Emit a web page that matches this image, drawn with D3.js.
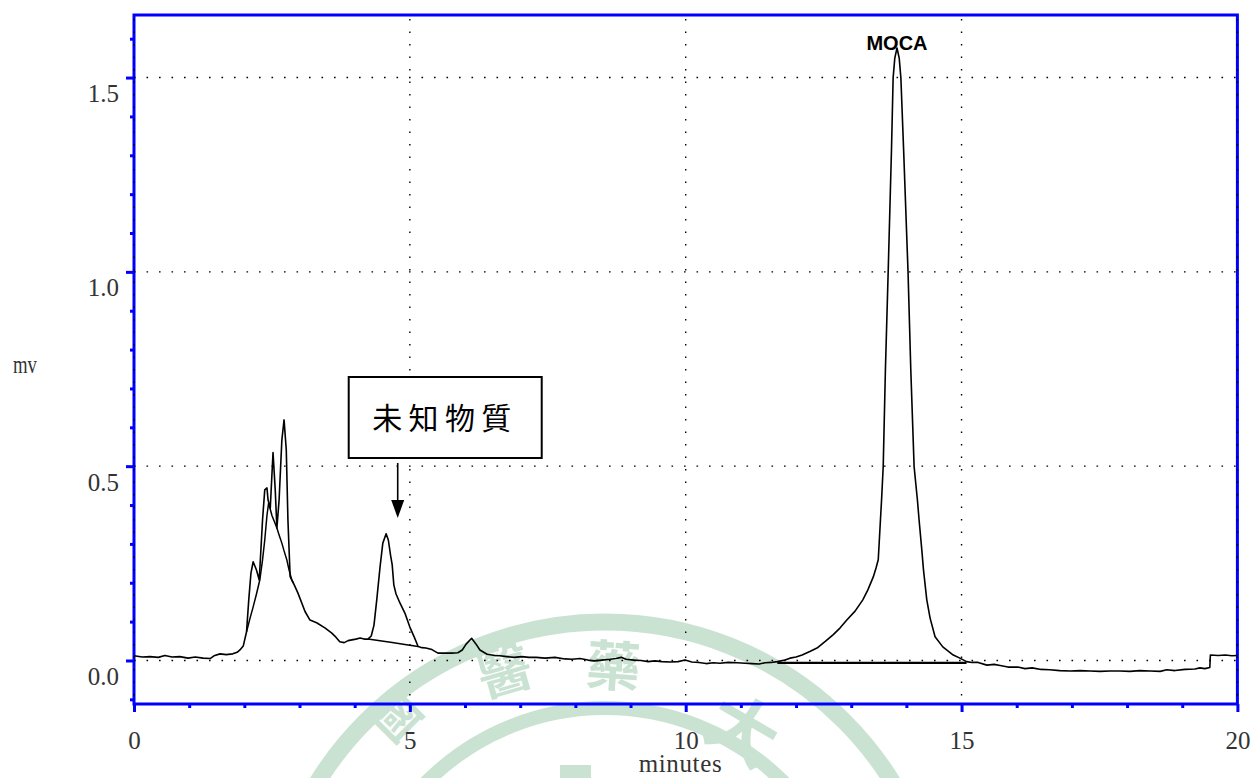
<!DOCTYPE html>
<html>
<head>
<meta charset="utf-8">
<script src="https://cdn.jsdelivr.net/npm/d3@7"></script>
<style>
  body { margin: 0; background: #fff; }
  svg { display: block; }
</style>
</head>
<body>
<div id="chart"></div>
<script>
// chromatogram trace, [minutes, mv]
var trace = [
  [0.00,0.012],[0.15,0.009],[0.29,0.010],[0.44,0.008],[0.56,0.013],[0.69,0.009],[0.83,0.010],
  [0.98,0.006],[1.11,0.009],[1.25,0.006],[1.38,0.005],[1.45,0.012],[1.56,0.017],[1.67,0.015],
  [1.79,0.017],[1.87,0.021],[1.92,0.027],[1.98,0.037],[2.04,0.074],[2.08,0.156],[2.12,0.225],
  [2.16,0.254],[2.22,0.233],[2.27,0.207],[2.33,0.362],[2.37,0.439],[2.41,0.444],[2.43,0.413],
  [2.47,0.392],[2.52,0.535],[2.56,0.439],[2.59,0.341],[2.63,0.413],[2.68,0.567],[2.72,0.619],
  [2.76,0.542],[2.79,0.362],[2.83,0.216],[2.89,0.199],[2.97,0.174],[3.10,0.126],[3.19,0.104],
  [3.31,0.097],[3.46,0.084],[3.58,0.071],[3.66,0.060],[3.73,0.048],[3.81,0.046],[3.88,0.051],
  [3.95,0.053],[4.02,0.055],[4.10,0.058],[4.17,0.055],[4.24,0.055],[4.30,0.063],[4.35,0.091],
  [4.40,0.156],[4.46,0.241],[4.51,0.302],[4.57,0.326],[4.61,0.310],[4.65,0.271],[4.68,0.246],
  [4.71,0.194],[4.75,0.171],[4.82,0.148],[4.91,0.122],[5.00,0.086],[5.08,0.060],[5.15,0.036],
  [5.22,0.033],[5.29,0.032],[5.40,0.028],[5.51,0.019],[5.64,0.019],[5.76,0.019],[5.87,0.020],
  [5.95,0.027],[6.02,0.042],[6.12,0.057],[6.20,0.042],[6.27,0.027],[6.40,0.016],[6.54,0.013],
  [6.63,0.012],[6.76,0.010],[6.89,0.008],[7.03,0.010],[7.16,0.008],[7.29,0.008],[7.45,0.006],
  [7.63,0.008],[7.81,0.004],[7.94,0.003],[8.08,0.005],[8.23,0.001],[8.34,-0.001],[8.48,0.001],
  [8.63,0.003],[8.74,0.005],[8.83,0.008],[8.92,0.003],[9.06,0.001],[9.19,0.000],[9.32,-0.003],
  [9.44,-0.001],[9.57,-0.003],[9.72,-0.004],[9.86,-0.003],[9.99,0.001],[10.11,-0.004],[10.24,-0.005],
  [10.37,-0.008],[10.50,-0.006],[10.62,-0.007],[10.77,-0.005],[10.93,-0.006],[11.08,-0.007],
  [11.20,-0.008],[11.33,-0.009],[11.44,-0.006],[11.55,-0.005],[11.66,-0.003],[11.80,0.001],
  [11.89,0.006],[12.00,0.009],[12.11,0.014],[12.25,0.023],[12.38,0.032],[12.53,0.049],[12.67,0.066],
  [12.80,0.084],[12.92,0.104],[13.07,0.127],[13.21,0.156],[13.30,0.181],[13.40,0.215],[13.45,0.238],
  [13.49,0.259],[13.51,0.310],[13.53,0.362],[13.55,0.413],[13.58,0.499],[13.62,0.748],[13.67,1.000],
  [13.73,1.314],[13.76,1.500],[13.79,1.550],[13.83,1.576],[13.87,1.550],[13.90,1.500],[13.95,1.314],
  [14.03,1.000],[14.08,0.748],[14.14,0.499],[14.20,0.413],[14.23,0.362],[14.28,0.284],[14.31,0.233],
  [14.37,0.156],[14.43,0.109],[14.52,0.061],[14.66,0.035],[14.85,0.014],[14.97,0.006],[15.09,-0.003],
  [15.19,-0.005],[15.30,-0.005],[15.46,-0.012],[15.59,-0.010],[15.70,-0.013],[15.84,-0.017],
  [16.02,-0.017],[16.15,-0.021],[16.28,-0.019],[16.44,-0.023],[16.60,-0.024],[16.78,-0.026],
  [16.97,-0.027],[17.15,-0.026],[17.33,-0.027],[17.51,-0.028],[17.69,-0.027],[17.87,-0.027],
  [18.05,-0.028],[18.23,-0.026],[18.42,-0.027],[18.60,-0.028],[18.72,-0.024],[18.87,-0.026],
  [19.05,-0.023],[19.23,-0.022],[19.32,-0.019],[19.41,-0.021],[19.50,-0.018],[19.51,0.014],
  [19.65,0.013],[19.78,0.014],[19.90,0.012],[20.00,0.013]
];

// integrator skim under the early cluster
var hump = [
  [2.04,0.074],[2.10,0.107],[2.16,0.138],[2.22,0.171],[2.28,0.207],[2.33,0.259],[2.37,0.310],
  [2.41,0.373],[2.44,0.405],[2.47,0.389],[2.50,0.373],[2.54,0.359],[2.59,0.341],[2.63,0.323],
  [2.68,0.302],[2.72,0.282],[2.77,0.259],[2.81,0.233],[2.86,0.207],[2.89,0.199]
];

// baseline under the unknown peak
var unknownBase = [[4.24,0.055],[4.46,0.051],[4.68,0.046],[4.91,0.041],[5.15,0.036]];

// baseline under MOCA
var mocaBase = [[11.66,-0.006],[15.09,-0.006]];

var xMajor = [0, 5, 10, 15, 20];
var xMinor = [1,2,3,4,6,7,8,9,11,12,13,14,16,17,18,19];
var yMajor = [0.0, 0.5, 1.0, 1.5];
var yMinor = [-0.1,0.1,0.2,0.3,0.4,0.6,0.7,0.8,0.9,1.1,1.2,1.3,1.4,1.6];

var mocaPeak = [13.83, 1.576];
var unknownPeak = [4.78, 0.326];

var W = 1254, H = 778;
// plot box (note: "top" is reserved on window, so use prefixed names)
var pLeft = 134, pRight = 1237.4, pTop = 15, pBottom = 704;

var svg = d3.select("#chart").append("svg")
  .attr("width", W)
  .attr("height", H);

var x = d3.scaleLinear().domain([0, 20]).range([pLeft, pRight]);
var y = d3.scaleLinear().domain([-0.112, 1.661]).range([pBottom, pTop]);

// faint seal watermark behind the plot
var wmColor = "#bcdcc6";
var wm = svg.append("g").attr("opacity", 0.8);
var cx = 605, cy = 960;
wm.append("circle").attr("cx", cx).attr("cy", cy).attr("r", 338)
  .attr("fill", "none").attr("stroke", wmColor).attr("stroke-width", 17);
wm.append("circle").attr("cx", cx).attr("cy", cy).attr("r", 252)
  .attr("fill", "none").attr("stroke", wmColor).attr("stroke-width", 14);
wm.append("rect").attr("x", 560).attr("y", 765).attr("width", 31).attr("height", 13)
  .attr("fill", wmColor);
[["國", 408, 728, -45, 48], ["醫", 510, 690, -16, 54], ["藥", 612, 686, 4, 54], ["大", 730, 752, 30, 70]]
  .forEach(function(c) {
    wm.append("text")
      .attr("transform", "translate(" + c[1] + "," + c[2] + ") rotate(" + c[3] + ")")
      .attr("text-anchor", "middle")
      .attr("font-family", "Noto Sans CJK TC")
      .attr("font-size", c[4] + "px")
      .attr("font-weight", "bold")
      .attr("fill", wmColor)
      .text(c[0]);
  });

// frame
svg.append("rect")
  .attr("x", pLeft).attr("y", pTop)
  .attr("width", pRight - pLeft).attr("height", pBottom - pTop)
  .attr("fill", "none")
  .attr("stroke", "#0000ff")
  .attr("stroke-width", 3);

// dotted grid
var grid = svg.append("g")
  .attr("stroke", "#000")
  .attr("stroke-width", 1.4)
  .attr("stroke-dasharray", "1.6,10.9");
grid.selectAll(".gy").data(yMajor).enter().append("line")
  .attr("x1", pLeft).attr("x2", pRight)
  .attr("y1", function(d) { return y(d); })
  .attr("y2", function(d) { return y(d); });
grid.selectAll(".gx").data(xMajor).enter().append("line")
  .attr("y1", pTop + 4).attr("y2", pBottom)
  .attr("x1", function(d) { return x(d); })
  .attr("x2", function(d) { return x(d); });

// axes (ticks only, the frame is the domain line)
function styleAxis(g) {
  g.select(".domain").remove();
  g.selectAll(".tick line").attr("stroke", "#0000ff").attr("stroke-width", 3);
}

svg.append("g")
  .attr("transform", "translate(" + pLeft + ",0)")
  .call(d3.axisLeft(y).tickValues(yMinor).tickSize(4).tickFormat(""))
  .call(styleAxis);

svg.append("g")
  .attr("transform", "translate(" + pLeft + ",0)")
  .call(d3.axisLeft(y).tickValues(yMajor).tickSize(8).tickPadding(7).tickFormat(d3.format(".1f")))
  .call(styleAxis)
  .selectAll("text")
    .attr("dy", 24)
    .attr("font-family", "Liberation Serif")
    .attr("font-size", "25px")
    .attr("fill", "#333");

svg.append("g")
  .attr("transform", "translate(0," + pBottom + ")")
  .call(d3.axisBottom(x).tickValues(xMinor).tickSize(4).tickFormat(""))
  .call(styleAxis);

svg.append("g")
  .attr("transform", "translate(0," + pBottom + ")")
  .call(d3.axisBottom(x).tickValues(xMajor).tickSize(8).tickFormat(d3.format("d")))
  .call(styleAxis)
  .selectAll("text")
    .attr("y", 45)
    .attr("dy", 0)
    .attr("font-family", "Liberation Serif")
    .attr("font-size", "25px")
    .attr("fill", "#333");

// axis titles
svg.append("text")
  .attr("x", x(9.9))
  .attr("y", 772)
  .attr("text-anchor", "middle")
  .attr("font-family", "Liberation Serif")
  .attr("font-size", "25px")
  .attr("fill", "#333")
  .attr("textLength", 83)
  .attr("lengthAdjust", "spacing")
  .text("minutes");

svg.append("text")
  .attr("x", 13)
  .attr("y", 373)
  .attr("font-family", "Liberation Serif")
  .attr("font-size", "25px")
  .attr("fill", "#333")
  .attr("textLength", 24)
  .attr("lengthAdjust", "spacingAndGlyphs")
  .text("mv");

// trace and baselines
var line = d3.line()
  .x(function(d) { return x(d[0]); })
  .y(function(d) { return y(d[1]); });

svg.append("path").datum(mocaBase)
  .attr("d", line)
  .attr("fill", "none")
  .attr("stroke", "#000")
  .attr("stroke-width", 2.3);

[hump, unknownBase].forEach(function(s) {
  svg.append("path").datum(s)
    .attr("d", line)
    .attr("fill", "none")
    .attr("stroke", "#000")
    .attr("stroke-width", 1.5);
});

svg.append("path").datum(trace)
  .attr("d", line)
  .attr("fill", "none")
  .attr("stroke", "#000")
  .attr("stroke-width", 1.6)
  .attr("stroke-linejoin", "round");

// peak label
svg.append("text")
  .attr("x", x(mocaPeak[0]))
  .attr("y", y(mocaPeak[1]) + 2)
  .attr("text-anchor", "middle")
  .attr("font-family", "Liberation Sans")
  .attr("font-weight", "bold")
  .attr("font-size", "20px")
  .attr("fill", "#000")
  .text("MOCA");

// annotation box + arrow for the unknown peak
var ax = x(unknownPeak[0]);
svg.append("rect")
  .attr("x", ax - 49).attr("y", 377)
  .attr("width", 193).attr("height", 81)
  .attr("fill", "#fff")
  .attr("stroke", "#000")
  .attr("stroke-width", 2);
svg.append("text")
  .attr("x", ax + 44)
  .attr("y", 429)
  .attr("text-anchor", "middle")
  .attr("font-family", "Noto Sans CJK TC")
  .attr("font-size", "30px")
  .attr("fill", "#000")
  .attr("textLength", 139)
  .attr("lengthAdjust", "spacing")
  .text("未知物質");
svg.append("line")
  .attr("x1", ax).attr("x2", ax)
  .attr("y1", 463).attr("y2", 502)
  .attr("stroke", "#000")
  .attr("stroke-width", 1.6);
svg.append("path")
  .attr("d", "M" + (ax - 6.5) + ",500L" + (ax + 6.5) + ",500L" + ax + ",518Z")
  .attr("fill", "#000");
</script>
</body>
</html>
